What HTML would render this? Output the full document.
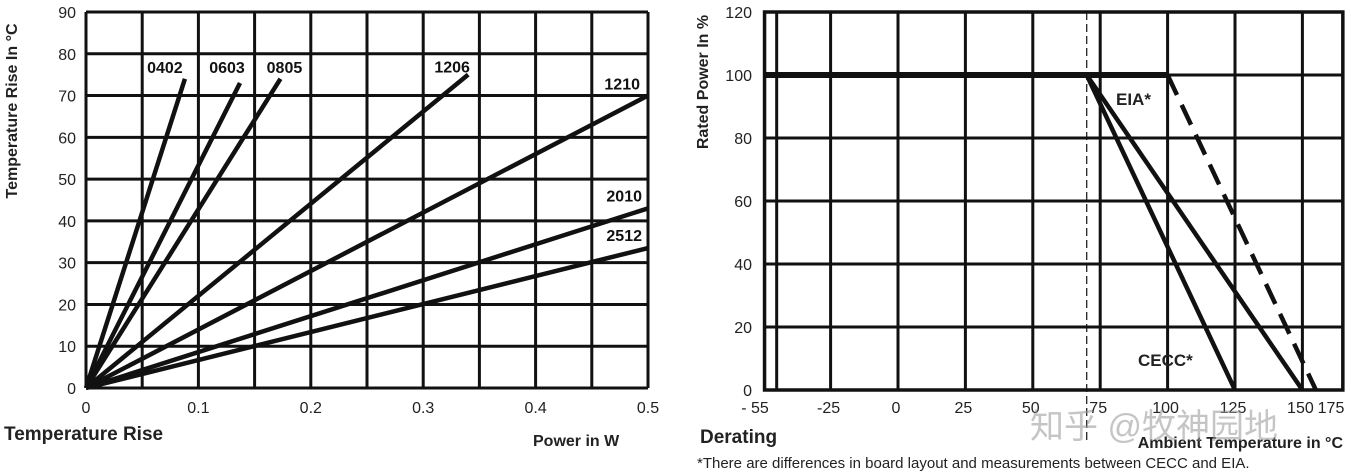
<!DOCTYPE html>
<html><head><meta charset="utf-8"><style>
body{margin:0;background:#fff;}
svg{display:block;font-family:"Liberation Sans","Noto Sans CJK SC",sans-serif;}
</style></head><body>
<svg id="s" width="1351" height="475" viewBox="0 0 1351 475"></svg>
<script>
// Left chart data
const leftXTicks=[0,0.1,0.2,0.3,0.4,0.5];
const leftYTicks=[0,10,20,30,40,50,60,70,80,90];
const sizes=['0402','0603','0805','1206','1210','2010','2512'];
const endPower=[0.088,0.137,0.173,0.34,0.5,0.5,0.5];
const endRise=[74,73,74,75,70,43,33.5];
// Right chart data
const rightXTicks=[-25,0,25,50,75,100,125,150];
const rightYTicks=[0,20,40,60,80,100,120];
const cecc=[[-49.5,100],[70,100],[125,0]];
const eiaSolid=[[70,100],[150,0]];
const eiaDash=[[100,100],[155,0]];

const NS='http://www.w3.org/2000/svg';
const svg=document.getElementById('s');
function el(t,a,txt){const e=document.createElementNS(NS,t);for(const k in a)e.setAttribute(k,a[k]);if(txt!==undefined)e.textContent=txt;svg.appendChild(e);return e;}

// left scales
const lx=v=>86+v/0.5*562, ly=v=>388-v/90*376;
for(let i=0;i<=10;i++){const e=el('line',{x1:lx(i*0.05),x2:lx(i*0.05),y1:ly(0),y2:ly(90),stroke:'#111','stroke-width':3});
}
leftYTicks.forEach(v=>{const e=el('line',{x1:lx(0),x2:lx(0.5),y1:ly(v),y2:ly(v),stroke:'#111','stroke-width':3});

const t=el('text',{x:76,y:ly(v)+6,'text-anchor':'end','font-size':16,fill:'#222'},v);
});
leftXTicks.forEach(v=>{const t=el('text',{x:lx(v),y:413,'text-anchor':'middle','font-size':16,fill:'#222'},v);
});
const labelPos=[[-20,-6,'middle'],[-13,-10,'middle'],[4,-6,'middle'],[-16,-2,'middle'],[-8,-6,'end'],[-6,-7,'end'],[-6,-7,'end']];
sizes.forEach((s,i)=>{const l=el('line',{x1:lx(0),y1:ly(0),x2:lx(endPower[i]),y2:ly(endRise[i]),stroke:'#111','stroke-width':4.5});

const p=labelPos[i];const t=el('text',{x:lx(endPower[i])+p[0],y:ly(endRise[i])+p[1],'text-anchor':p[2],'font-size':16,'font-weight':'bold',fill:'#111'},s);
});
let t;
t=el('text',{transform:'translate(17,111) rotate(-90)','text-anchor':'middle','font-size':16,'font-weight':'bold',fill:'#222'},'Temperature Rise In °C');

t=el('text',{x:4,y:440,'font-size':19,'font-weight':'bold',fill:'#222'},'Temperature Rise');

t=el('text',{x:533,y:446,'font-size':16,'font-weight':'bold',fill:'#222'},'Power in W');


// right scales
const rx=v=>898+v*2.696, ry=v=>390-v/120*378;
el('rect',{x:rx(-49.5),y:ry(120),width:rx(165)-rx(-49.5),height:ry(0)-ry(120),fill:'none',stroke:'#111','stroke-width':3.5});
[-45].concat(rightXTicks).forEach(v=>{const e=el('line',{x1:rx(v),x2:rx(v),y1:ry(0),y2:ry(120),stroke:'#111','stroke-width':3});
});
rightYTicks.forEach(v=>{const e=el('line',{x1:rx(-49.5),x2:rx(165),y1:ry(v),y2:ry(v),stroke:'#111','stroke-width':3});

const tt=el('text',{x:752,y:ry(v)+6,'text-anchor':'end','font-size':16,fill:'#222'},v);
});
t=el('text',{x:755,y:413,'text-anchor':'middle','font-size':16,fill:'#222'},'- 55');

rightXTicks.concat([175]).forEach(v=>{const tt=el('text',{x:v===175?1331:rx(v)-2,y:413,'text-anchor':'middle','font-size':16,fill:'#222'},v);
});
let d=el('line',{x1:rx(70),x2:rx(70),y1:ry(120),y2:440,stroke:'#111','stroke-width':1.2,'stroke-dasharray':'8,4'});

d=el('line',{x1:rx(-49.5),x2:rx(100),y1:ry(100),y2:ry(100),stroke:'#111','stroke-width':6});

const path=pts=>pts.map((p,i)=>(i?'L':'M')+rx(p[0])+' '+ry(p[1])).join(' ');
d=el('path',{d:path(cecc),stroke:'#111','stroke-width':4.5,fill:'none'});

d=el('path',{d:path(eiaSolid),stroke:'#111','stroke-width':4.5,fill:'none'});

d=el('path',{d:path(eiaDash),stroke:'#111','stroke-width':4.5,fill:'none','stroke-dasharray':'22,11'});

t=el('text',{x:1116,y:105,'font-size':17,'font-weight':'bold',fill:'#222'},'EIA*');

t=el('text',{x:1138,y:366,'font-size':17,'font-weight':'bold',fill:'#222'},'CECC*');

t=el('text',{transform:'translate(708,82) rotate(-90)','text-anchor':'middle','font-size':16,'font-weight':'bold',fill:'#222'},'Rated Power In %');

t=el('text',{x:700,y:443,'font-size':19,'font-weight':'bold',fill:'#222'},'Derating');

t=el('text',{x:1343,y:448,'text-anchor':'end','font-size':16,'font-weight':'bold',fill:'#222'},'Ambient Temperature in °C');

t=el('text',{x:697,y:468,'font-size':15,fill:'#222'},'*There are differences in board layout and measurements between CECC and EIA.');

t=el('text',{x:1030,y:438,'font-size':34,fill:'rgba(150,150,150,0.55)'},'知乎 @牧神园地');

</script>
</body></html>
